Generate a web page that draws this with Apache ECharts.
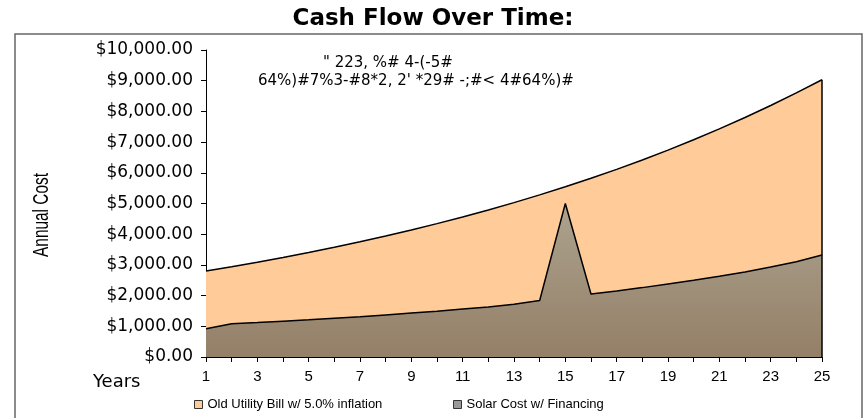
<html>
<head>
<meta http-equiv="content-type" content="text/html; charset=utf-8">
<script src="https://cdn.jsdelivr.net/npm/echarts@6/dist/echarts.min.js"></script>
<style>
	html, body { margin: 0; padding: 0; background: #ffffff; }
	#chart { width: 866px; height: 418px; }
</style>
<title>Cash Flow Over Time</title>
</head>
<body>
<div id="chart"></div>
<script type="text/javascript">
///////////////////////////////////////////////////////////////////////////////
// data
var years = ['1','2','3','4','5','6','7','8','9','10','11','12','13',
	'14','15','16','17','18','19','20','21','22','23','24','25'];

var old_bill = [2800, 2940, 3087, 3241, 3403, 3574, 3752, 3940, 4137, 4344,
	4561, 4789, 5028, 5280, 5544, 5821, 6112, 6418, 6739, 7076,
	7430, 7801, 8191, 8601, 9031];

var solar_cost = [920, 1080, 1120, 1165, 1210, 1260, 1310, 1370, 1430, 1490,
	1560, 1630, 1720, 1840, 5000, 2050, 2150, 2260, 2380, 2500,
	2630, 2770, 2930, 3100, 3320];

var name_old = 'Old Utility Bill w/ 5.0% inflation';
var name_solar = 'Solar Cost w/ Financing';

var note_lines = ['" 223, %# 4-(-5#', "64%)#7%3-#8*2, 2' *29# -;#< 4#64%)#"];

///////////////////////////////////////////////////////////////////////////////
function money(v) {
	var s = v.toFixed(2).split('.');
	return '$' + s[0].replace(/\B(?=(\d{3})+(?!\d))/g, ',') + '.' + s[1];
}

var last = years.length - 1;

var chart = echarts.init(document.getElementById('chart'));

var option = {
	animation: false,
	textStyle: { fontFamily: 'Liberation Sans, Arial, sans-serif', color: '#000' },
	title: {
		text: 'Cash Flow Over Time:',
		left: 'center', top: 3,
		textStyle: { fontFamily: 'DejaVu Sans', fontWeight: 'bold', fontSize: 23, color: '#000' }
	},
	grid: { left: 206, right: 44, top: 50, bottom: 61 },
	legend: [{
		left: 189, top: 393, itemWidth: 8, itemHeight: 8, itemGap: 3,
		textStyle: { fontSize: 13, color: '#000' },
		data: [{ name: name_old, icon: 'rect', itemStyle: { color: '#ffcc99', borderColor: '#333', borderWidth: 1 } }]
	}, {
		left: 448, top: 393, itemWidth: 8, itemHeight: 8, itemGap: 3,
		textStyle: { fontSize: 13, color: '#000' },
		data: [{ name: name_solar, icon: 'rect', itemStyle: { color: '#999999', borderColor: '#333', borderWidth: 1 } }]
	}],
	xAxis: {
		type: 'category',
		data: years,
		boundaryGap: false,
		axisLine: { lineStyle: { color: '#000', width: 1 } },
		axisTick: { interval: 0, length: 5, lineStyle: { color: '#000' } },
		axisLabel: { interval: 1, fontSize: 15, color: '#000', margin: 12 },
		splitLine: { show: false }
	},
	yAxis: {
		type: 'value',
		min: 0, max: 10000, interval: 1000,
		axisLine: { show: true, lineStyle: { color: '#000', width: 1 } },
		axisTick: { show: true, length: 5, lineStyle: { color: '#000' } },
		axisLabel: { formatter: money, fontFamily: 'DejaVu Sans', fontSize: 17, color: '#000', margin: 13 },
		splitLine: { show: false }
	},
	graphic: [
		{ type: 'rect', silent: true, shape: { x: 15, y: 34, width: 847, height: 420 },
			style: { fill: 'none', stroke: '#666', lineWidth: 1.5 } },
		// condensed, rotated axis title
		{ type: 'text', x: 42, y: 215, rotation: Math.PI / 2, scaleX: 0.7,
			style: { text: 'Annual Cost', fontFamily: 'Liberation Sans', fontSize: 22, fill: '#000', align: 'center', verticalAlign: 'middle' } },
		{ type: 'text', x: 93, y: 382,
			style: { text: 'Years', fontFamily: 'DejaVu Sans', fontSize: 18, fill: '#000', align: 'left', verticalAlign: 'middle' } },
		{ type: 'text', x: 323, y: 63,
			style: { text: note_lines[0], fontFamily: 'DejaVu Sans', fontSize: 15, fill: '#000', align: 'left', verticalAlign: 'middle' } },
		{ type: 'text', x: 258, y: 81,
			style: { text: note_lines[1], fontFamily: 'DejaVu Sans', fontSize: 15, fill: '#000', align: 'left', verticalAlign: 'middle' } }
	],
	series: [{
		name: name_old,
		type: 'line',
		data: old_bill,
		symbol: 'none',
		lineStyle: { color: '#000', width: 1.5 },
		itemStyle: { color: '#ffcc99' },
		areaStyle: { color: '#ffcc99', opacity: 1 },
		z: 2,
		markLine: {
			silent: true, symbol: 'none', label: { show: false },
			lineStyle: { color: '#000', width: 1.5, type: 'solid' },
			data: [[{ coord: [last, 0] }, { coord: [last, old_bill[last]] }]]
		}
	}, {
		name: name_solar,
		type: 'line',
		data: solar_cost,
		symbol: 'none',
		lineStyle: { color: '#000', width: 1.5 },
		itemStyle: { color: '#999999' },
		areaStyle: {
			opacity: 1,
			color: new echarts.graphic.LinearGradient(0, 0, 0, 1, [
				{ offset: 0, color: '#aca38f' },
				{ offset: 1, color: '#947f67' }
			])
		},
		z: 3
	}]
};

chart.setOption(option);
</script>
</body>
</html>
